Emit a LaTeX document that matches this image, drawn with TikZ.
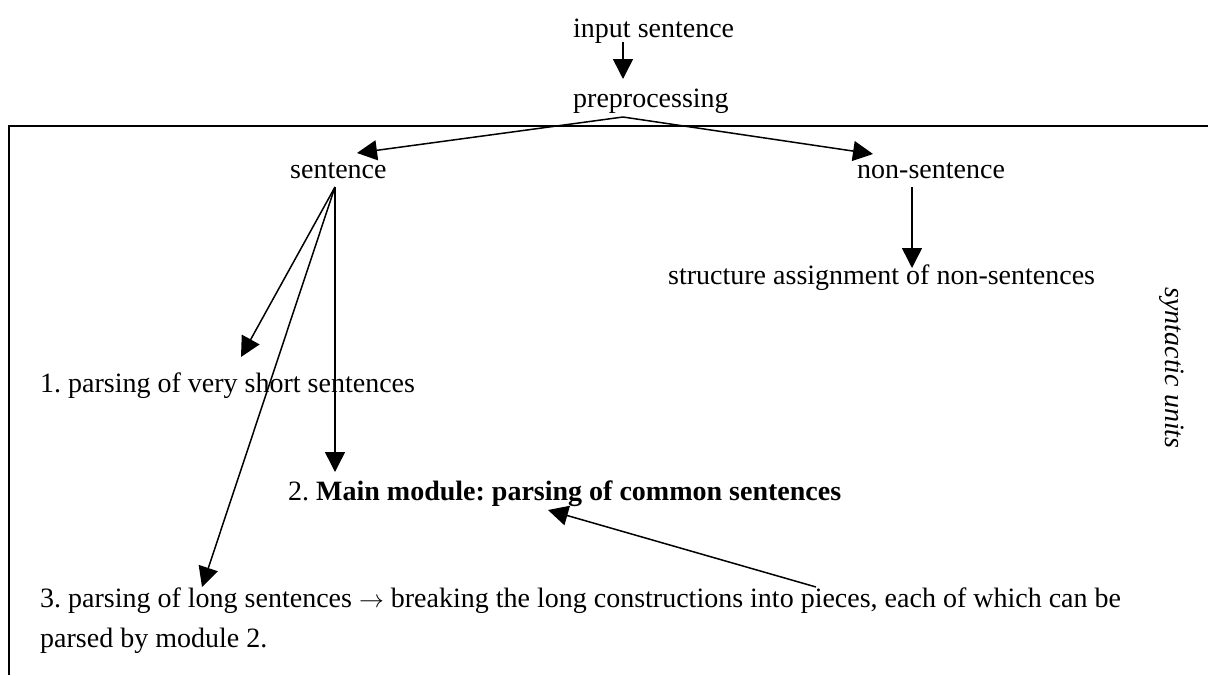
\documentclass[tikz,border=0pt]{standalone}
\usepackage{fontspec}
\setmainfont{Liberation Serif}
\usetikzlibrary{arrows.meta}
\begin{document}
\frenchspacing
\begin{tikzpicture}[x=1pt,y=-1pt,
  txt/.style={font=\fontsize{28}{40}\selectfont, inner sep=0pt, anchor=base west},
  arr/.style={line width=1.5pt, -{Triangle[length=20pt,width=20pt]}},
  frame/.style={line width=2pt}]
\useasboundingbox (0,0) rectangle (1208,675);
% frame
\coordinate (fbl) at (9,675);
\coordinate (ftl) at (9,126);
\coordinate (ftr) at (1208,126);
\draw[frame] (fbl) -- (ftl) -- (ftr);
% texts
\node[txt] (inp) at (573,37) {input sentence};
\node[txt] (pre) at (573,107) {preprocessing};
\node[txt] (sen) at (290,178) {sentence};
\node[txt] (non) at (857,178) {non-sentence};
\node[txt] (str) at (668,284) {structure assignment of non-sentences};
\node[txt] (m1) at (40,392) {1. parsing of very short sentences};
\node[txt] (m2) at (288,500) {2. \textbf{Main module: parsing of common sentences}};
\node[txt] (m3a) at (40,607) {3. parsing of long sentences $\rightarrow$ breaking the long constructions into pieces, each of which can be};
\node[txt] (m3b) at (40,647) {parsed by module 2.};
\node[font=\fontsize{28}{40}\selectfont\itshape, inner sep=0pt, rotate=-90] (syn) at (1172,368) {syntactic units};
% connector points
\coordinate (inpB) at (623,42);
\coordinate (preT) at (623,79);
\coordinate (preB) at (623,117);
\coordinate (senT) at (357,153);
\coordinate (nonT) at (873,154);
\coordinate (senB) at (335,187);
\coordinate (nonB) at (912,187);
\coordinate (strT) at (912,268);
\coordinate (m1T) at (241,357);
\coordinate (m2T) at (335,472);
\coordinate (m3T) at (202,587);
\coordinate (m3P) at (816,587);
\coordinate (m2B) at (548,510);
% connectors
\draw[arr] (inpB) -- (preT);
\draw[arr] (preB) -- (senT);
\draw[arr] (preB) -- (nonT);
\draw[arr] (nonB) -- (strT);
\draw[arr] (senB) -- (m1T);
\draw[arr] (senB) -- (m2T);
\draw[arr] (senB) -- (m3T);
\draw[arr] (m3P) -- (m2B);
\end{tikzpicture}
\end{document}
